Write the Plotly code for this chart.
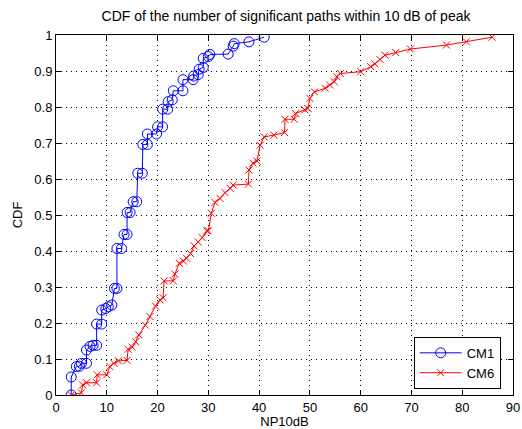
import plotly.graph_objects as go

# CM1 CDF points
cm1_x = [3, 3, 4, 4.6, 5, 6, 6, 6.7, 7.3, 8, 8, 9, 9, 9.8, 10.3, 11, 11.5, 12, 12, 12.9,
         13.4, 14, 14, 14.6, 15.2, 15.9, 16.1, 17, 17.1, 18, 18, 19.8, 20, 21, 21, 22,
         22.1, 22.9, 23.1, 25, 25, 27, 27.1, 28, 28.2, 29, 29, 30, 30.3, 33.9, 34.9,
         35.1, 38, 41]
cm1_y = [0, 0.05, 0.079, 0.08, 0.088, 0.088, 0.125, 0.135, 0.138, 0.138, 0.197, 0.197,
         0.236, 0.24, 0.245, 0.25, 0.296, 0.296, 0.407, 0.407, 0.446, 0.446, 0.507, 0.507,
         0.537, 0.537, 0.616, 0.616, 0.696, 0.696, 0.725, 0.725, 0.745, 0.745, 0.794,
         0.794, 0.815, 0.82, 0.845, 0.845, 0.876, 0.876, 0.886, 0.89, 0.905, 0.91, 0.935,
         0.94, 0.946, 0.947, 0.969, 0.976, 0.981, 0.994]

# CM6 CDF points
cm6_x = [3, 5, 5.25, 6, 8, 8.1, 10, 10.6, 11.4, 12.3, 14, 14.2, 15, 15.7, 16.3, 17.6,
         18.5, 19.6, 20.5, 21.1, 21.3, 23.1, 23.4, 24.3, 25.1, 25.7, 26.5, 27.2, 28,
         28.8, 29.7, 30, 30.6, 31.3, 32.3, 33.3, 34.3, 34.9, 37.9, 38, 38.8, 39.6, 40.2,
         41, 42.9, 45, 45.1, 46.9, 47.2, 49, 49.6, 50, 50.9, 53, 53.9, 54.8, 55.3, 56,
         60, 62, 62.8, 63.8, 64.8, 66.9, 69.8, 76.9, 80.8, 85.9]
cm6_y = [0, 0.006, 0.028, 0.034, 0.034, 0.056, 0.056, 0.079, 0.088, 0.095, 0.096, 0.127,
         0.133, 0.148, 0.167, 0.194, 0.218, 0.247, 0.264, 0.27, 0.317, 0.317, 0.336,
         0.366, 0.372, 0.38, 0.393, 0.414, 0.425, 0.437, 0.456, 0.456, 0.505, 0.535,
         0.546, 0.562, 0.574, 0.583, 0.586, 0.625, 0.644, 0.65, 0.694, 0.717, 0.722,
         0.729, 0.766, 0.766, 0.782, 0.792, 0.796, 0.824, 0.842, 0.852, 0.861, 0.87,
         0.884, 0.893, 0.898, 0.912, 0.92, 0.932, 0.944, 0.951, 0.961, 0.972, 0.981,
         0.994]

x_ticks = list(range(0, 91, 10))
y_ticks = [i / 10 for i in range(11)]
y_labels = ["0", "0.1", "0.2", "0.3", "0.4", "0.5", "0.6", "0.7", "0.8", "0.9", "1"]

FONT = "Liberation Sans, Arial, Helvetica, sans-serif"

fig = go.Figure()
fig.add_trace(go.Scatter(
    x=cm1_x, y=cm1_y, mode="lines+markers", name="CM1",
    line=dict(color="#0000ff", width=1),
    marker=dict(symbol="circle-open", size=10, color="#0000ff", line=dict(width=1)),
))
fig.add_trace(go.Scatter(
    x=cm6_x, y=cm6_y, mode="lines+markers", name="CM6",
    line=dict(color="#ff0000", width=1),
    marker=dict(symbol="x-thin-open", size=7, color="#ff0000", line=dict(width=1, color="#ff0000")),
))

axis_common = dict(
    showline=True, linecolor="black", linewidth=1, mirror="ticks",
    ticks="inside", ticklen=5, tickcolor="black", automargin=False,
    showgrid=True, gridcolor="black", gridwidth=1, griddash="1px,4px",
    zeroline=False, tickfont=dict(family=FONT, size=13, color="black"),
)

fig.update_layout(
    width=522, height=429,
    margin=dict(l=56, r=9, t=35, b=34, autoexpand=False),
    paper_bgcolor="white", plot_bgcolor="white",
    title=dict(text="CDF of the number of significant paths within 10 dB of peak",
               x=0.548, xanchor="center", y=0.962, yanchor="middle",
               font=dict(family=FONT, size=14, color="black")),
    font=dict(family=FONT, size=13, color="black"),
    xaxis=dict(range=[0, 90], tickvals=x_ticks, ticktext=[str(v) for v in x_ticks],
               title=dict(text="NP10dB", standoff=7, font=dict(size=13)), **axis_common),
    yaxis=dict(range=[0, 1], tickvals=y_ticks, ticktext=y_labels,
               title=dict(text="CDF", standoff=8, font=dict(size=13)), **axis_common),
    legend=dict(x=0.973, y=0.017, xanchor="right", yanchor="bottom",
                bordercolor="black", borderwidth=1, bgcolor="white",
                font=dict(family=FONT, size=13, color="black"),
                tracegroupgap=0, itemwidth=42),
    showlegend=True,
)

fig.write_html(
    "out.html",
    config={"displayModeBar": False},
    post_script=(
        "document.body.style.margin='0';"
        "document.body.style.overflow='hidden';"
        "document.documentElement.style.overflow='hidden';"
    ),
)
